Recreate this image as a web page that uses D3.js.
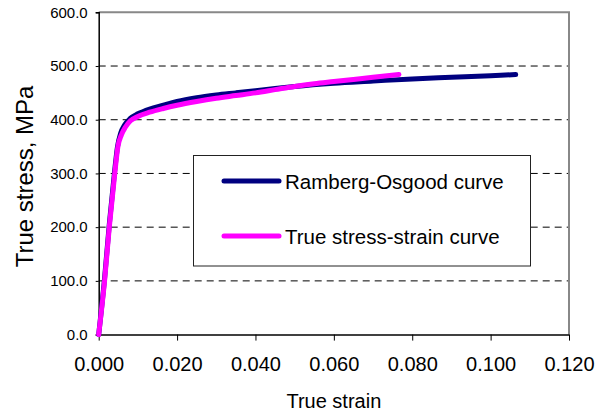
<!DOCTYPE html>
<html>
<head>
<meta charset="utf-8">
<script src="https://cdn.jsdelivr.net/npm/d3@7"></script>
<style>
  html, body { margin: 0; padding: 0; background: #fff; }
  svg { display: block; font-family: "Liberation Sans", Arial, sans-serif; }
</style>
</head>
<body>
<svg id="chart" width="610" height="413"></svg>
<script>
// Strain / stress samples for each curve
const rambergStrain = [0, 0.0015, 0.0027, 0.0040, 0.0048, 0.0056, 0.0066, 0.0080, 0.0100, 0.0130, 0.0165, 0.0200, 0.0250, 0.0300, 0.0350, 0.0400, 0.0450, 0.0500, 0.0600, 0.0700, 0.0800, 0.0900, 0.1000, 0.1064];
const rambergStress = [0, 105, 205, 300, 350, 375, 390, 402, 411, 420, 427, 434, 441, 446, 450, 454, 458, 462, 468, 472, 476, 479, 482, 484];

const trueStrain = [0, 0.0015, 0.0027, 0.0041, 0.0049, 0.0058, 0.0068, 0.0081, 0.0100, 0.0130, 0.0165, 0.0200, 0.0250, 0.0300, 0.0350, 0.0400, 0.0450, 0.0500, 0.0550, 0.0600, 0.0650, 0.0700, 0.0766];
const trueStress = [0, 100, 200, 300, 350, 372, 386, 398, 406, 414, 421, 427, 434, 440, 445, 450, 456, 462, 467, 471, 475, 479, 484];

const xTicks = [0, 0.02, 0.04, 0.06, 0.08, 0.10, 0.12];
const yTicks = [0, 100, 200, 300, 400, 500, 600];

const seriesNames = ["Ramberg-Osgood curve", "True stress-strain curve"];
const seriesColors = ["#000080", "#ff00ff"];

const svg = d3.select("#chart");
const plotLeft = 98.7, plotRight = 569, plotTop = 12.3, plotBottom = 334.6;

const x = d3.scaleLinear().domain([0, 0.12]).range([plotLeft, plotRight]);
const y = d3.scaleLinear().domain([0, 600]).range([plotBottom, plotTop]);

// dashed horizontal gridlines
svg.append("g")
  .selectAll("line")
  .data(yTicks.filter(v => v > 0 && v < 600))
  .join("line")
  .attr("x1", plotLeft).attr("x2", plotRight)
  .attr("y1", d => y(d)).attr("y2", d => y(d))
  .attr("stroke", "#000").attr("stroke-width", 1)
  .attr("stroke-dasharray", "7,5");

// plot frame: top and right edges in grey
svg.append("path")
  .attr("d", `M${plotLeft},${y(600)}H${plotRight}V${plotBottom}`)
  .attr("fill", "none").attr("stroke", "#888").attr("stroke-width", 2);

// y axis
const yAxis = svg.append("g")
  .attr("transform", `translate(${plotLeft},0)`)
  .call(d3.axisLeft(y).tickValues(yTicks).tickSize(3).tickPadding(8)
    .tickFormat(d3.format(".1f")));
yAxis.select(".domain").attr("stroke", "#000").attr("stroke-width", 1.5);
yAxis.selectAll(".tick line").attr("stroke", "#000");
yAxis.selectAll("text")
  .attr("font-size", 15).attr("fill", "#000")
  .style("font-family", "'Liberation Sans', Arial, sans-serif");

// x axis
const xAxis = svg.append("g")
  .attr("transform", `translate(0,${plotBottom})`)
  .call(d3.axisBottom(x).tickValues(xTicks).tickSize(6).tickSizeOuter(0).tickPadding(16)
    .tickFormat(d3.format(".3f")));
xAxis.select(".domain").attr("stroke", "#000").attr("stroke-width", 1.5);
xAxis.selectAll(".tick line").attr("stroke", "#000");
xAxis.selectAll("text")
  .attr("font-size", 20).attr("fill", "#000")
  .style("font-family", "'Liberation Sans', Arial, sans-serif");

// axis titles
svg.append("text")
  .attr("x", (plotLeft + plotRight) / 2).attr("y", 408)
  .attr("text-anchor", "middle").attr("font-size", 20).attr("fill", "#000")
  .text("True strain");
svg.append("text")
  .attr("transform", `translate(33,${(plotTop + plotBottom) / 2 + 3}) rotate(-90)`)
  .attr("text-anchor", "middle").attr("font-size", 24).attr("fill", "#000")
  .text("True stress, MPa");

// curves
const line = d3.line()
  .x(d => x(d[0])).y(d => y(d[1]))
  .curve(d3.curveMonotoneX);

const series = [
  d3.zip(rambergStrain, rambergStress),
  d3.zip(trueStrain, trueStress)
];

svg.append("g")
  .selectAll("path")
  .data(series)
  .join("path")
  .attr("d", line)
  .attr("fill", "none")
  .attr("stroke", (d, i) => seriesColors[i])
  .attr("stroke-width", 5)
  .attr("stroke-linecap", "round")
  .attr("stroke-linejoin", "round");

// legend
const legend = svg.append("g");
legend.append("rect")
  .attr("x", 193.5).attr("y", 155.5).attr("width", 337).attr("height", 110.5)
  .attr("fill", "#fff").attr("stroke", "#222").attr("stroke-width", 1);

const rows = legend.selectAll("g.row")
  .data(seriesNames)
  .join("g")
  .attr("class", "row")
  .attr("transform", (d, i) => `translate(0,${i === 0 ? 181 : 236})`);
rows.append("line")
  .attr("x1", 224).attr("x2", 279).attr("y1", 0).attr("y2", 0)
  .attr("stroke", (d, i) => seriesColors[i]).attr("stroke-width", 5)
  .attr("stroke-linecap", "round");
rows.append("text")
  .attr("x", 285).attr("y", 7.5)
  .attr("font-size", 20.5).attr("fill", "#000")
  .text(d => d);
</script>
</body>
</html>
